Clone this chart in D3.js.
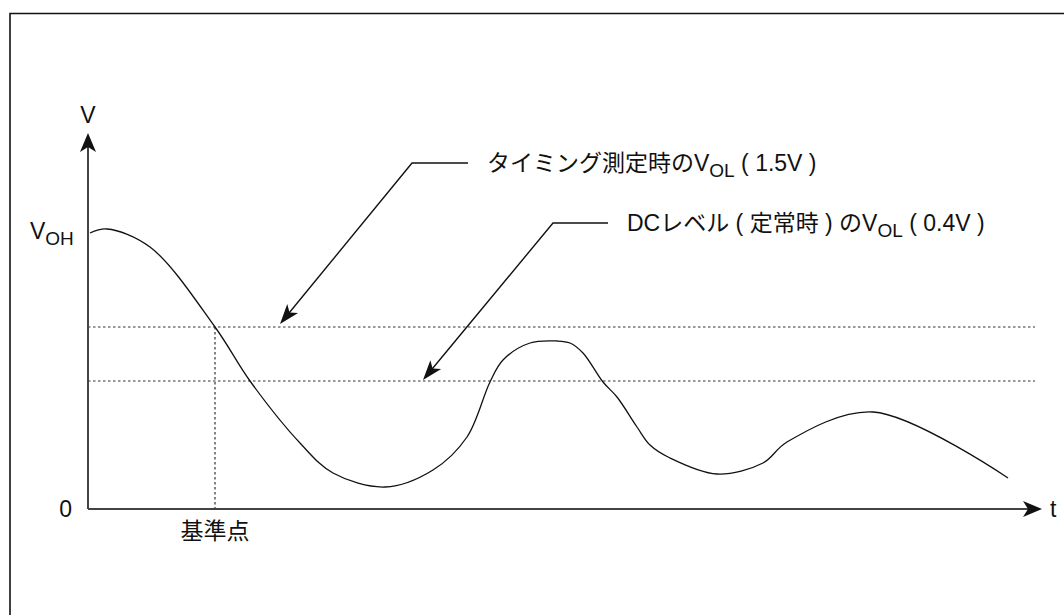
<!DOCTYPE html>
<html>
<head>
<meta charset="utf-8">
<script src="https://cdn.jsdelivr.net/npm/d3@7"></script>
<style>
  html, body { margin: 0; padding: 0; background: #fff; }
  svg { display: block; }
  text { font-family: "Liberation Sans", Arial, "Noto Sans CJK JP", sans-serif; fill: #111; }
</style>
</head>
<body>
<svg id="chart" width="1064" height="615"></svg>
<script>
// ---- data (arbitrary schematic units: t = time, v = voltage) ----
const curveT = [2, 19, 62, 127, 162, 212, 245, 297, 345, 379, 402, 415, 442, 469, 482, 495, 515, 529, 549, 562, 582, 629, 675, 699, 785, 920];
const curveV = [276, 280, 262, 182, 128, 66, 36, 22, 39, 72, 127, 149, 166, 168, 166, 156, 127, 112, 82, 64, 51, 35, 46, 67, 97, 31];

const levelNames = ["1.5V", "0.4V"];
const levelV = [182, 128];
const levelEndT = 947;
const refT = 127;              // 基準点

const axisMaxT = 954;
const axisMaxV = 376;

// annotation leaders
const annTexts = ["タイミング測定時のV", "DCレベル ( 定常時 ) のV"];
const annSubs = ["OL", "OL"];
const annTails = [" ( 1.5V )", " ( 0.4V )"];
const annTipT = [192, 335];
const annTipV = [185, 129];
const annElbowT = [324, 465];
const annElbowV = [346, 286];
const annEndT = [380, 520];
const annTextT = [399, 539];

const yLabelText = "V";
const xLabelText = "t";
const zeroLabel = "0";
const vohMain = "V", vohSub = "OH";
const vohV = 270;
const refLabel = "基準点";

// ---- scales ----
const x = d3.scaleLinear().domain([0, axisMaxT]).range([88, 1042]);
const y = d3.scaleLinear().domain([0, axisMaxV]).range([509, 133]);

const svg = d3.select("#chart");

// frame (top + left only visible)
svg.append("path").attr("d", "M10,615 L10,13.5 L1064,13.5")
  .attr("fill", "none").attr("stroke", "#111").attr("stroke-width", 1.6);

// notched arrowhead helper
function arrowHead(tx, ty, dx, dy, len, half, notch) {
  const L = Math.hypot(dx, dy); const ux = dx / L, uy = dy / L;
  const px = -uy, py = ux;
  const bx = tx - ux * len, by = ty - uy * len;
  const nx = tx - ux * (len - notch), ny = ty - uy * (len - notch);
  return `M${tx},${ty} L${bx + px * half},${by + py * half} L${nx},${ny} L${bx - px * half},${by - py * half} Z`;
}

// dashed level lines
svg.selectAll(".level").data(levelV).enter().append("line")
  .attr("x1", x(0)).attr("x2", x(levelEndT))
  .attr("y1", d => y(d)).attr("y2", d => y(d))
  .attr("stroke", "#333").attr("stroke-width", 1.2).attr("stroke-dasharray", "2.5,2.5");

// reference vertical dashed line
svg.append("line")
  .attr("x1", x(refT)).attr("x2", x(refT))
  .attr("y1", y(levelV[0])).attr("y2", y(0))
  .attr("stroke", "#333").attr("stroke-width", 1.2).attr("stroke-dasharray", "2.5,2.5");

// axes
svg.append("line").attr("x1", x(0)).attr("x2", x(0)).attr("y1", y(0)).attr("y2", y(axisMaxV) + 10)
  .attr("stroke", "#444").attr("stroke-width", 2);
svg.append("line").attr("x1", x(0)).attr("x2", x(axisMaxT) - 10).attr("y1", y(0)).attr("y2", y(0))
  .attr("stroke", "#444").attr("stroke-width", 2);
svg.append("path").attr("d", arrowHead(x(0), y(axisMaxV), 0, -1, 19, 8, 5)).attr("fill", "#111");
svg.append("path").attr("d", arrowHead(x(axisMaxT), y(0), 1, 0, 19, 8, 5)).attr("fill", "#111");

// curve
const pts = curveT.map((t, i) => [x(t), y(curveV[i])]);
svg.append("path")
  .attr("d", d3.line().curve(d3.curveCatmullRom.alpha(0.5))(pts))
  .attr("fill", "none").attr("stroke", "#111").attr("stroke-width", 1.3);

// annotation leaders
annTexts.forEach((txt, i) => {
  const ex = x(annEndT[i]), ey = y(annElbowV[i]);
  const bx = x(annElbowT[i]), by = y(annElbowV[i]);
  const tx = x(annTipT[i]), ty = y(annTipV[i]);
  const dx = tx - bx, dy = ty - by, L = Math.hypot(dx, dy);
  const sx = tx - dx / L * 12, sy = ty - dy / L * 12;
  svg.append("path").attr("d", `M${ex},${ey} L${bx},${by} L${sx},${sy}`)
    .attr("fill", "none").attr("stroke", "#111").attr("stroke-width", 1.4);
  svg.append("path").attr("d", arrowHead(tx, ty, dx, dy, 20, 7, 5)).attr("fill", "#111");
  const t = svg.append("text").attr("x", x(annTextT[i])).attr("y", ey + 8).attr("font-size", 23);
  t.append("tspan").text(txt);
  t.append("tspan").attr("dy", 6).attr("font-size", 19).text(annSubs[i]);
  t.append("tspan").attr("dy", -6).text(annTails[i]);
});

// axis labels
svg.append("text").attr("x", x(0)).attr("y", y(axisMaxV) - 10).attr("text-anchor", "middle")
  .attr("font-size", 23).text(yLabelText);
svg.append("text").attr("x", x(axisMaxT) + 8).attr("y", y(0) + 8)
  .attr("font-size", 23).text(xLabelText);
svg.append("text").attr("x", x(0) - 16).attr("y", y(0) + 8).attr("text-anchor", "end")
  .attr("font-size", 23).text(zeroLabel);
const voh = svg.append("text").attr("x", 30).attr("y", y(vohV)).attr("font-size", 23);
voh.append("tspan").text(vohMain);
voh.append("tspan").attr("dy", 6).attr("font-size", 19).text(vohSub);
svg.append("text").attr("x", x(refT)).attr("y", y(0) + 30).attr("text-anchor", "middle")
  .attr("font-size", 23).text(refLabel);
</script>
</body>
</html>
